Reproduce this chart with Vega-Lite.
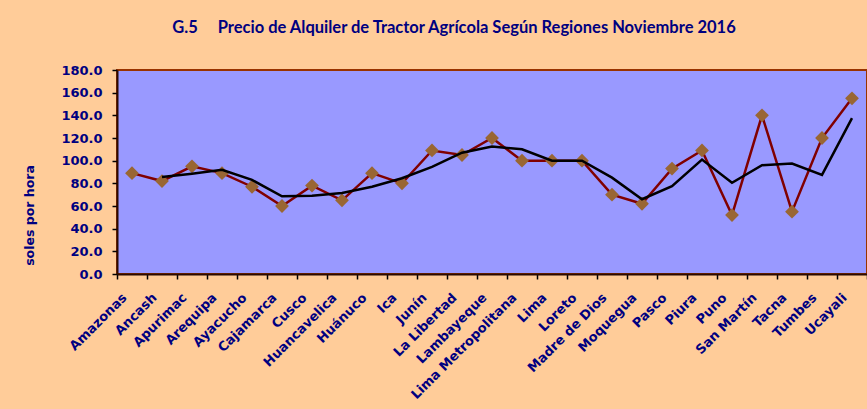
{
  "$schema": "https://vega.github.io/schema/vega-lite/v6.json",
  "autosize": "none",
  "width": 750,
  "height": 204,
  "padding": {"left": 117, "top": 70, "right": 0, "bottom": 135},
  "background": "#FFCC99",
  "title": {
    "text": "G.5\u00a0\u00a0\u00a0\u00a0\u00a0Precio de Alquiler de Tractor Agrícola Según Regiones Noviembre 2016",
    "font": "Lato",
    "fontSize": 16.5,
    "fontWeight": "bold",
    "color": "#000080",
    "anchor": "middle",
    "dx": -38,
    "offset": 28
  },
  "config": {
    "view": {"fill": "#9999FF", "stroke": "#993300", "strokeWidth": 2},
    "axis": {
      "labelFont": "DejaVu Sans",
      "labelFontWeight": "bold",
      "labelFontSize": 13,
      "labelColor": "#000080",
      "labelOverlap": false,
      "titleFont": "DejaVu Sans",
      "titleFontWeight": "bold",
      "titleColor": "#000080",
      "domainColor": "#2a0a00",
      "domainWidth": 2,
      "tickColor": "#000000",
      "tickWidth": 1.5,
      "grid": false
    }
  },
  "datasets": {
    "precio": [
      {"region": "Amazonas", "valor": 89},
      {"region": "Ancash", "valor": 82},
      {"region": "Apurimac", "valor": 95},
      {"region": "Arequipa", "valor": 89},
      {"region": "Ayacucho", "valor": 77},
      {"region": "Cajamarca", "valor": 60},
      {"region": "Cusco", "valor": 78},
      {"region": "Huancavelica", "valor": 65},
      {"region": "Huánuco", "valor": 89},
      {"region": "Ica", "valor": 80},
      {"region": "Junín", "valor": 109},
      {"region": "La Libertad", "valor": 105},
      {"region": "Lambayeque", "valor": 120},
      {"region": "Lima Metropolitana", "valor": 100},
      {"region": "Lima", "valor": 100},
      {"region": "Loreto", "valor": 100},
      {"region": "Madre de Dios", "valor": 70},
      {"region": "Moquegua", "valor": 62},
      {"region": "Pasco", "valor": 93},
      {"region": "Piura", "valor": 109},
      {"region": "Puno", "valor": 52},
      {"region": "San Martín", "valor": 140},
      {"region": "Tacna", "valor": 55},
      {"region": "Tumbes", "valor": 120},
      {"region": "Ucayali", "valor": 155}
    ],
    "media": [
      {"region": "Ancash", "valor": 85.5},
      {"region": "Apurimac", "valor": 88.5},
      {"region": "Arequipa", "valor": 92},
      {"region": "Ayacucho", "valor": 83},
      {"region": "Cajamarca", "valor": 68.5},
      {"region": "Cusco", "valor": 69},
      {"region": "Huancavelica", "valor": 71.5},
      {"region": "Huánuco", "valor": 77},
      {"region": "Ica", "valor": 84.5},
      {"region": "Junín", "valor": 94.5},
      {"region": "La Libertad", "valor": 107},
      {"region": "Lambayeque", "valor": 112.5},
      {"region": "Lima Metropolitana", "valor": 110},
      {"region": "Lima", "valor": 100},
      {"region": "Loreto", "valor": 100},
      {"region": "Madre de Dios", "valor": 85},
      {"region": "Moquegua", "valor": 66},
      {"region": "Pasco", "valor": 77.5},
      {"region": "Piura", "valor": 101},
      {"region": "Puno", "valor": 80.5},
      {"region": "San Martín", "valor": 96},
      {"region": "Tacna", "valor": 97.5},
      {"region": "Tumbes", "valor": 87.5},
      {"region": "Ucayali", "valor": 137.5}
    ]
  },
  "encoding": {
    "x": {
      "field": "region",
      "type": "nominal",
      "sort": null,
      "scale": {"paddingInner": 0, "paddingOuter": 0},
      "axis": {
        "title": null,
        "labelAngle": -45,
        "tickBand": "extent",
        "tickSize": 5,
        "labelPadding": 12,
        "labelOffset": -12
      }
    },
    "y": {
      "field": "valor",
      "type": "quantitative",
      "scale": {"domain": [0, 180], "nice": false},
      "axis": {
        "title": "soles por hora",
        "titleX": -88,
        "titleY": 145,
        "titleAngle": -90,
        "titleFontSize": 12.5,
        "titleBaseline": "middle",
        "values": [0, 20, 40, 60, 80, 100, 120, 140, 160, 180],
        "labelOverlap": false,
        "format": ".1f",
        "tickSize": 5,
        "labelPadding": 10
      }
    }
  },
  "layer": [
    {
      "data": {"name": "precio"},
      "mark": {"type": "line", "color": "#800000", "strokeWidth": 2.5}
    },
    {
      "data": {"name": "precio"},
      "mark": {"type": "point", "shape": "diamond", "filled": true, "color": "#996633", "size": 190, "opacity": 1}
    },
    {
      "data": {"name": "media"},
      "mark": {"type": "line", "color": "#000000", "strokeWidth": 2.5}
    }
  ]
}
